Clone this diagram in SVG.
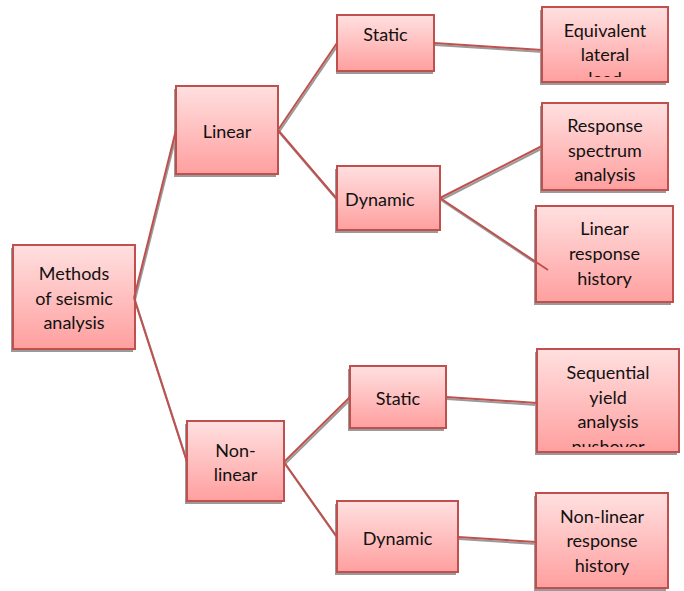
<svg xmlns="http://www.w3.org/2000/svg" width="684" height="591" viewBox="0 0 684 591">
<defs>
<linearGradient id="g" x1="0" y1="0" x2="0" y2="1">
<stop offset="0" stop-color="#ffe0e0"/>
<stop offset="1" stop-color="#ff9f9f"/>
</linearGradient>
<filter id="sh" x="-10%" y="-10%" width="130%" height="130%">
<feGaussianBlur stdDeviation="0.6"/>
</filter>
<clipPath id="c1"><rect x="542" y="7" width="126" height="70"/></clipPath>
<clipPath id="c2"><rect x="542" y="103" width="126" height="84"/></clipPath>
<clipPath id="c3"><rect x="537" y="349" width="142" height="98"/></clipPath>
</defs>
<style>
.box{fill:url(#g);stroke:#c0504d;stroke-width:2}
.shd{fill:#9a9a9a;filter:url(#sh)}
text{font-family:Lato,"Liberation Sans",sans-serif;font-size:18px;fill:#111;text-anchor:middle;dominant-baseline:central}
.ln{stroke:#c0504d;stroke-width:2;fill:none}
.lsh{stroke:#9a9a9a;stroke-width:2;fill:none}
</style>

<g id="connectors-shadow">
<path class="lsh" d="M135,300 L177,132 M135,300 L188,464 M279,132 L338,45 M279,132 L338,201 M435,45 L543,52 M441,200 L543,148 M441,200 L549,272 M285,464 L351,399 M285,464 L338,539 M447,399 L536,405 M459,539 L537,544"/>
</g>

<g id="methods"><rect class="shd" x="11" y="248" width="122" height="104"/><rect class="box" x="13" y="245" width="122" height="104"/><text x="74" y="273">Methods</text><text x="74" y="297.5">of seismic</text><text x="74" y="322">analysis</text></g>
<g id="linear"><rect class="shd" x="174" y="89" width="102" height="88"/><rect class="box" x="176" y="86" width="102" height="88"/><text x="227" y="131">Linear</text></g>
<g id="nonlinear"><rect class="shd" x="185" y="424" width="97" height="80"/><rect class="box" x="187" y="421" width="97" height="80"/><text x="235.5" y="450">Non-</text><text x="235.5" y="474">linear</text></g>
<g id="static1"><rect class="shd" x="336" y="18" width="97" height="56"/><rect class="box" x="337" y="15" width="97" height="56"/><text x="385.5" y="34">Static</text></g>
<g id="dynamic1"><rect class="shd" x="335" y="169" width="103" height="64"/><rect class="box" x="337" y="166" width="103" height="64"/><text x="345" y="199" style="text-anchor:start">Dynamic</text></g>
<g id="static2"><rect class="shd" x="348" y="369" width="96" height="62"/><rect class="box" x="350" y="366" width="96" height="62"/><text x="398" y="398">Static</text></g>
<g id="dynamic2"><rect class="shd" x="335" y="504" width="121" height="71"/><rect class="box" x="337" y="501" width="121" height="71"/><text x="397.5" y="538">Dynamic</text></g>
<g id="equivalent"><rect class="shd" x="540" y="10" width="126" height="75"/><rect class="box" x="542" y="7" width="126" height="75"/><g clip-path="url(#c1)"><text x="605" y="30">Equivalent</text><text x="605" y="54">lateral</text><text x="605" y="78">load</text></g></g>
<g id="spectrum"><rect class="shd" x="540" y="106" width="126" height="87"/><rect class="box" x="542" y="103" width="126" height="87"/><g clip-path="url(#c2)"><text x="605" y="125">Response</text><text x="605" y="150">spectrum</text><text x="605" y="174">analysis</text></g></g>
<g id="lin-history"><rect class="shd" x="534" y="209" width="137" height="96"/><rect class="box" x="536" y="206" width="137" height="96"/><text x="604.5" y="228">Linear</text><text x="604.5" y="253">response</text><text x="604.5" y="278">history</text></g>
<g id="sequential"><rect class="shd" x="535" y="352" width="142" height="103"/><rect class="box" x="537" y="349" width="142" height="103"/><g clip-path="url(#c3)"><text x="608" y="372">Sequential</text><text x="608" y="397">yield</text><text x="608" y="421">analysis</text><text x="608" y="446">pushover</text></g></g>
<g id="nl-history"><rect class="shd" x="534" y="496" width="132" height="95"/><rect class="box" x="536" y="493" width="132" height="95"/><text x="602" y="516">Non-linear</text><text x="602" y="540">response</text><text x="602" y="565">history</text></g>

<g id="connectors">
<path class="ln" d="M134,298 L176,130 M134,298 L187,462 M278,130 L337,43 M278,130 L337,199 M434,43 L542,50 M440,198 L542,146 M440,198 L548,270 M284,462 L350,397 M284,462 L337,537 M446,397 L537,403 M458,537 L536,542"/>
</g>
</svg>
